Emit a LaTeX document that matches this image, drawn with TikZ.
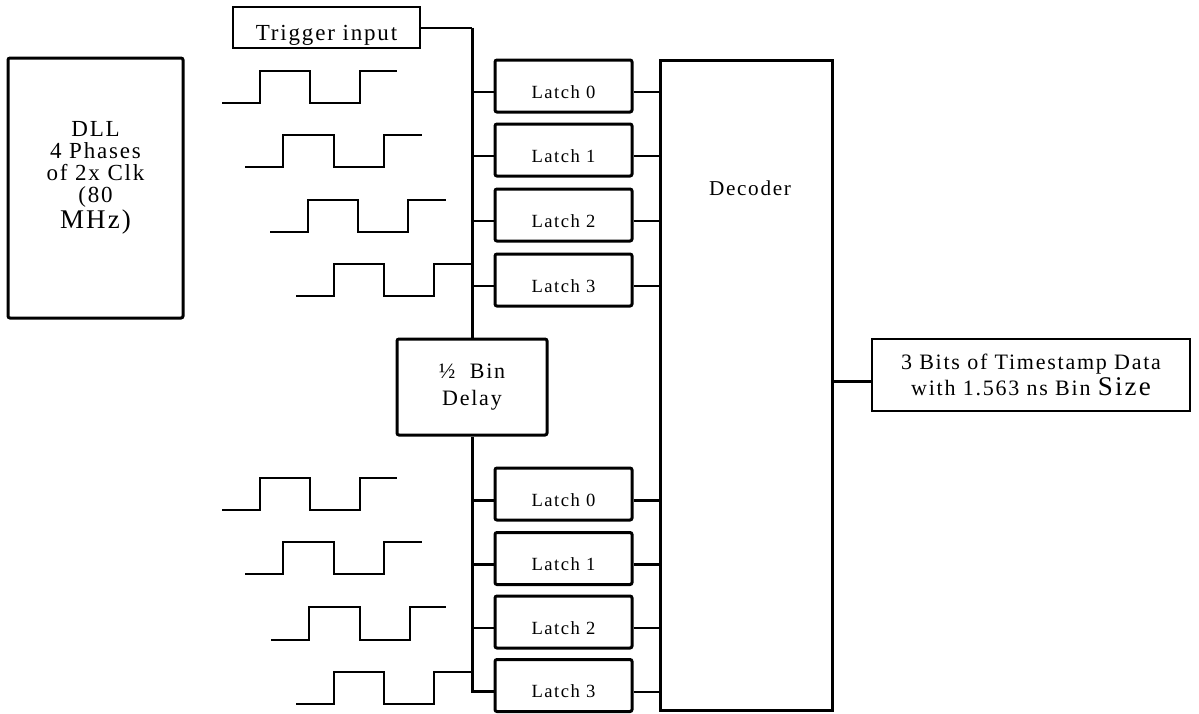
\documentclass[tikz,border=0pt]{standalone}
\usepackage{fontspec}
\setmainfont{Liberation Serif}[LetterSpace=8]
\begin{document}
\begin{tikzpicture}[
x=0.5pt, y=-0.5pt,
block/.style={draw, line width=1.5pt, rounded corners=1pt, inner sep=0pt},
latch/.style={block, minimum width=68.5pt, minimum height=26pt, text height=12pt, text depth=0pt, font=\fontsize{9.3}{11}\selectfont},
frame/.style={draw, line width=1pt, inner sep=0pt},
bus/.style={line width=1.5pt},
wire/.style={line width=1pt},
clock/.style={line width=1pt}
]
\useasboundingbox (0,0) rectangle (1199,713);

\node[block, minimum width=87.5pt, minimum height=130pt, align=center, text depth=13pt, font=\fontsize{11.5}{11}\selectfont] (dll) at (95.5,188)
    {DLL\\4 Phases\\of 2x Clk\\(80\\{\fontsize{13.5}{13}\selectfont MHz)}};
\node[frame, minimum width=93.5pt, minimum height=20.5pt, text height=12.5pt, text depth=0pt, font=\fontsize{11.5}{13}\selectfont] (trig) at (326.5,27.5) {Trigger input};
\node[block, minimum width=75pt, minimum height=48pt, align=center, font=\fontsize{11}{13.5}\selectfont] (dly) at (472,387) {½\ \ Bin\\Delay};

\node[latch] (u0) at (563.5,86) {Latch 0};
\node[latch] (u1) at (563.5,150) {Latch 1};
\node[latch] (u2) at (563.5,215) {Latch 2};
\node[latch] (u3) at (563.5,280) {Latch 3};
\node[latch] (l0) at (563.5,494) {Latch 0};
\node[latch] (l1) at (563.5,558.5) {Latch 1};
\node[latch] (l2) at (563.5,622) {Latch 2};
\node[latch] (l3) at (563.5,685.5) {Latch 3};

\node[block, rounded corners=0pt, minimum width=86pt, minimum height=325pt,
    label={[anchor=center, xshift=2pt, yshift=-65pt, font=\fontsize{10.6}{12}\selectfont]north:Decoder}] (dec) at (746,385) {};
\node[frame, minimum width=159pt, minimum height=36pt, align=center, font=\fontsize{11}{13}\selectfont] (out) at (1031,375)
    {3 Bits of Timestamp Data\\with 1.563 ns Bin {\fontsize{13.5}{13}\selectfont Size}};

\draw[clock] (222,103) -- ++(38,0) -- ++(0,-32) -- ++(50,0) -- ++(0,32) -- ++(50,0) -- ++(0,-32) -- ++(37,0);
\draw[clock] (245,167) -- ++(38,0) -- ++(0,-32) -- ++(51,0) -- ++(0,32) -- ++(50,0) -- ++(0,-32) -- ++(38,0);
\draw[clock] (270,232) -- ++(38,0) -- ++(0,-32) -- ++(50,0) -- ++(0,32) -- ++(50,0) -- ++(0,-32) -- ++(38,0);
\draw[clock] (296,296) -- ++(38,0) -- ++(0,-32) -- ++(50,0) -- ++(0,32) -- ++(50,0) -- ++(0,-32) -- (dly.north |- 0,264);
\draw[clock] (222,510) -- ++(38,0) -- ++(0,-32) -- ++(50,0) -- ++(0,32) -- ++(50,0) -- ++(0,-32) -- ++(37,0);
\draw[clock] (245,574) -- ++(38,0) -- ++(0,-32) -- ++(51,0) -- ++(0,32) -- ++(50,0) -- ++(0,-32) -- ++(38,0);
\draw[clock] (271,640) -- ++(38,0) -- ++(0,-33) -- ++(51,0) -- ++(0,33) -- ++(50,0) -- ++(0,-33) -- ++(36,0);
\draw[clock] (296,704) -- ++(38,0) -- ++(0,-32) -- ++(50,0) -- ++(0,32) -- ++(50,0) -- ++(0,-32) -- (dly.south |- 0,672);

\draw[wire] (trig.east) -- (trig.east -| dly.north);
\draw[bus] (trig.east -| dly.north) -- (dly.north);
\draw[bus] (dly.south) |- ([yshift=-3pt]l3.west);

\draw[wire] ([yshift=-3pt]u0.west) -- ++(-23,0);
\draw[wire] ([yshift=-3pt]u1.west) -- ++(-23,0);
\draw[wire] ([yshift=-3pt]u2.west) -- ++(-23,0);
\draw[wire] ([yshift=-3pt]u3.west) -- ++(-23,0);
\draw[bus] ([yshift=-3pt]l0.west) -- ++(-23,0);
\draw[bus] ([yshift=-3pt]l1.west) -- ++(-23,0);
\draw[wire] ([yshift=-3pt]l2.west) -- ++(-23,0);

\draw[wire] ([yshift=-3pt]u0.east) -- ++(28,0);
\draw[wire] ([yshift=-3pt]u1.east) -- ++(28,0);
\draw[wire] ([yshift=-3pt]u2.east) -- ++(28,0);
\draw[wire] ([yshift=-3pt]u3.east) -- ++(28,0);
\draw[bus] ([yshift=-3pt]l0.east) -- ++(28,0);
\draw[bus] ([yshift=-3pt]l1.east) -- ++(28,0);
\draw[wire] ([yshift=-3pt]l2.east) -- ++(28,0);
\draw[wire] ([yshift=-3pt]l3.east) -- ++(28,0);

\draw[bus] ([yshift=-3pt]out.west) -- ++(-40,0);
\end{tikzpicture}
\end{document}
